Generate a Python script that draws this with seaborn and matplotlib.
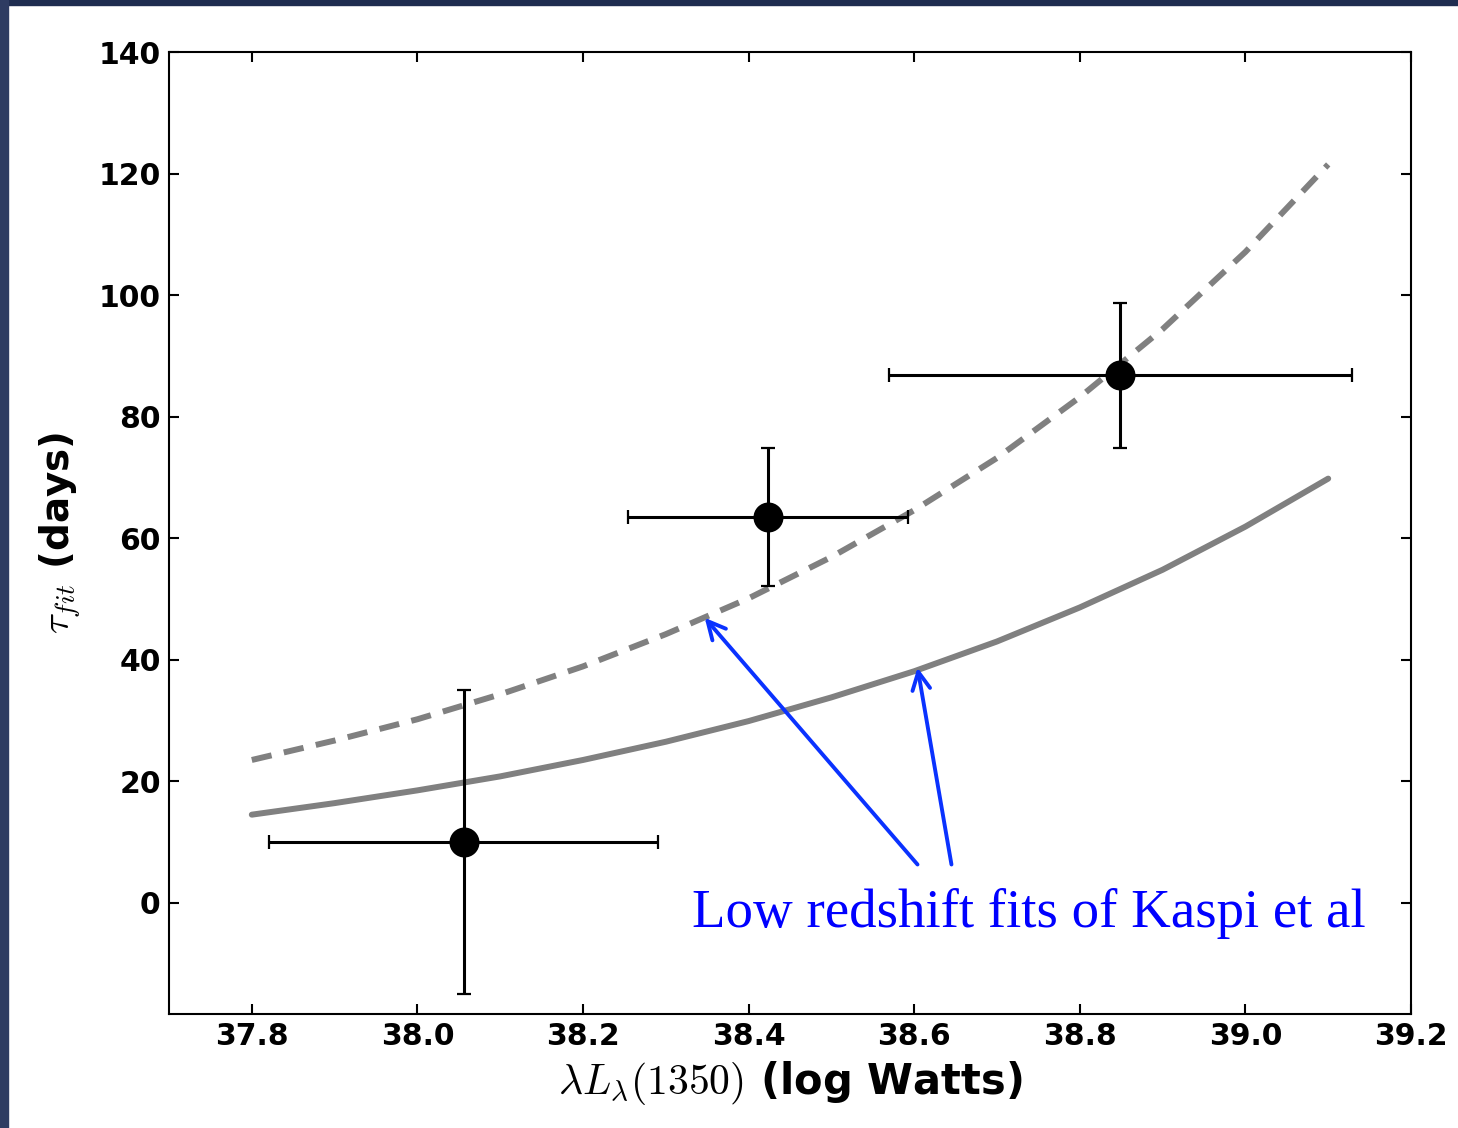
import numpy as np
import pandas as pd
import seaborn as sns
import matplotlib.pyplot as plt
from matplotlib.patches import Rectangle

lum = [38.056, 38.424, 38.849]
tau = [10.0, 63.5, 86.8]
lum_lo = [0.235, 0.170, 0.279]
lum_hi = [0.234, 0.169, 0.280]
tau_err = [25.0, 11.3, 11.9]

# low redshift fits of Kaspi et al
fit_x = [37.8, 37.9, 38.0, 38.1, 38.2, 38.3, 38.4, 38.5, 38.6, 38.7, 38.8, 38.9, 39.0, 39.1]
fit_dashed = [23.5, 26.7, 30.2, 34.3, 38.9, 44.2, 50.1, 56.9, 64.6, 73.2, 83.2, 94.4, 107.1, 121.5]
fit_solid = [14.5, 16.4, 18.5, 20.8, 23.5, 26.5, 29.9, 33.8, 38.1, 43.0, 48.6, 54.8, 61.9, 69.8]

xticks = [37.8, 38.0, 38.2, 38.4, 38.6, 38.8, 39.0, 39.2]
yticks = [0, 20, 40, 60, 80, 100, 120, 140]

sns.set_style("ticks", {'text.color': 'black', 'axes.labelcolor': 'black',
                        'xtick.color': 'black', 'ytick.color': 'black',
                        'axes.edgecolor': 'black'})
plt.rcParams['mathtext.fontset'] = 'cm'

fig = plt.figure(figsize=(14.58, 11.28), dpi=100)
fig.patch.set_facecolor('white')
# slide border
fig.patches.append(Rectangle((0, 1 - 5 / 1128), 1, 5 / 1128, transform=fig.transFigure,
                             color='#1f2d50', zorder=0))
fig.patches.append(Rectangle((0, 0), 8 / 1458, 1, transform=fig.transFigure,
                             color='#2e3c62', zorder=0))

ax = fig.add_axes([169 / 1458, 1 - 1014 / 1128, (1411 - 169) / 1458, (1014 - 52) / 1128])

df = pd.DataFrame({'x': fit_x, 'dashed': fit_dashed, 'solid': fit_solid})
sns.lineplot(data=df, x='x', y='dashed', ax=ax, color='#808080', lw=4.3,
             dashes=False, zorder=1)
ax.lines[-1].set_dashes((3.4, 2.1))
sns.lineplot(data=df, x='x', y='solid', ax=ax, color='#808080', lw=4.3, zorder=1)

ax.errorbar(lum, tau, xerr=[lum_lo, lum_hi], yerr=tau_err, fmt='none', ecolor='black',
            elinewidth=2.2, capsize=5, capthick=1.6, zorder=3)
sns.scatterplot(x=lum, y=tau, ax=ax, color='black', s=400, edgecolor='black', zorder=4)

ax.set_xlim(37.7, 39.2)
ax.set_ylim(-18.3, 140)
ax.set_xticks(xticks)
ax.set_yticks(yticks)
ax.set_xticklabels(['%.1f' % t for t in xticks])
ax.set_yticklabels([str(t) for t in yticks])
ax.tick_params(direction='in', length=7, width=1.5, top=True, right=True,
               labelsize=21.5, pad=6, colors='black')
for lab in ax.get_xticklabels() + ax.get_yticklabels():
    lab.set_fontweight('bold')
for s in ax.spines.values():
    s.set_linewidth(1.5)
    s.set_color('black')

ax.set_xlabel(r'$\lambda L_\lambda(1350)$ (log Watts)', fontsize=30, fontweight='bold',
              color='black')
ax.set_ylabel(r'$\tau_{fit}$ (days)', fontsize=28, fontweight='bold', color='black')
ax.xaxis.set_label_coords(0.5, -0.072)
ax.xaxis.label.set_va('center')
ax.yaxis.set_label_coords(-0.088, 0.5)
ax.yaxis.label.set_va('center')

arrow = dict(arrowstyle='->', color='#0a32ff', lw=2.8, mutation_scale=32,
             shrinkA=0, shrinkB=0)
ax.annotate('', xy=(38.347, 46.9), xytext=(38.604, 6.3), arrowprops=arrow)
ax.annotate('', xy=(38.604, 38.7), xytext=(38.645, 6.3), arrowprops=arrow)
ax.text(38.738, -1.8, 'Low redshift fits of Kaspi et al', color='#0000ff',
        fontsize=39.5, family='Liberation Serif', ha='center', va='center')

plt.savefig('out.png', dpi=100, facecolor=fig.get_facecolor())
